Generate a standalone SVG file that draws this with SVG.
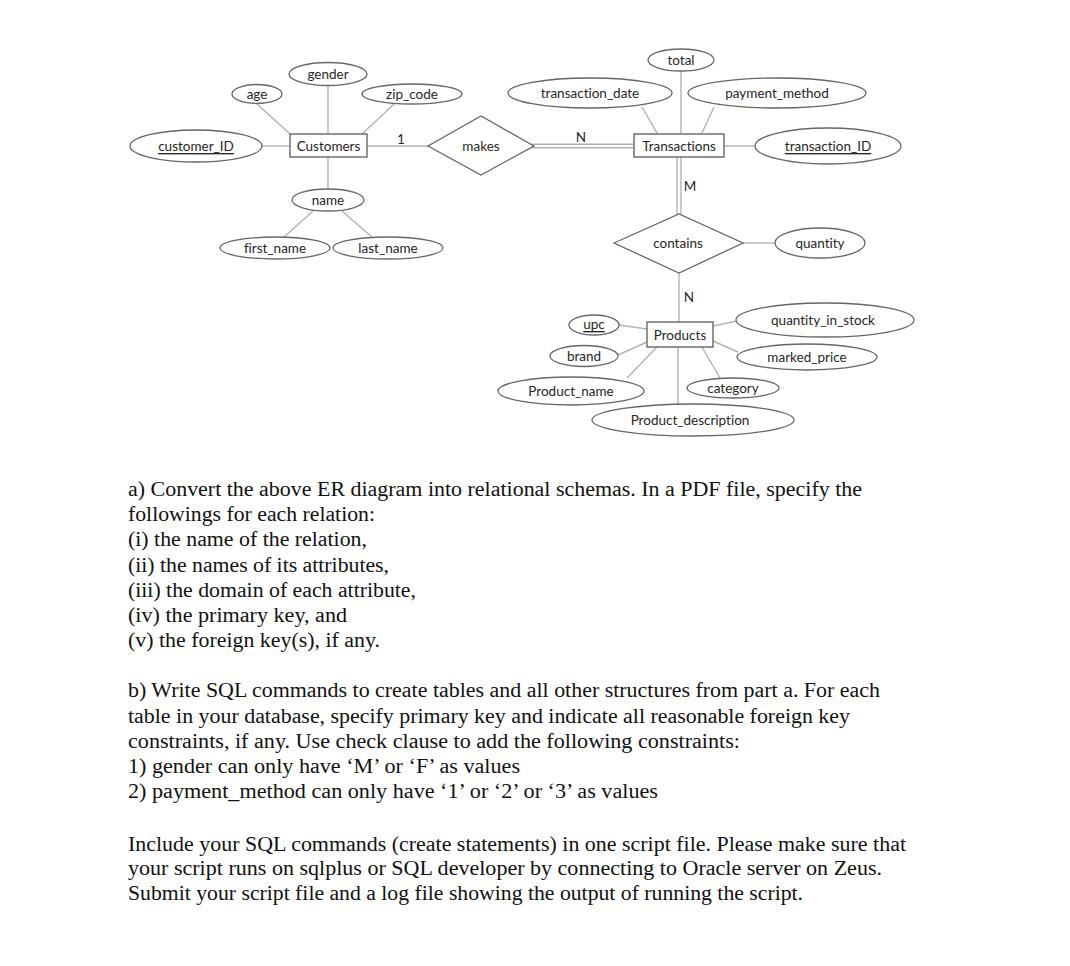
<svg xmlns="http://www.w3.org/2000/svg" width="1070" height="966" viewBox="0 0 1070 966">
<style>
.ell{fill:#fff;stroke:#666;stroke-width:1.3}
.ent{fill:#fff;stroke:#666;stroke-width:1.4}
.rel{fill:#fff;stroke:#666;stroke-width:1.3}
.ln{stroke:#b3b3b3;stroke-width:1.4;fill:none}
.t{font-family:Lato,"Open Sans","Liberation Sans",sans-serif;font-size:13.5px;fill:#262626;text-anchor:middle;dominant-baseline:central;font-variant-ligatures:none}
.u{text-decoration:underline}
.p{font-family:"Liberation Serif","Times New Roman",serif;font-size:20.5px;fill:#111}
</style>
<rect width="1070" height="966" fill="#fff"/>
<g id="connectors">
<line class="ln" x1="257" y1="104" x2="290" y2="134"/>
<line class="ln" x1="328" y1="86" x2="328" y2="134"/>
<line class="ln" x1="394" y1="104" x2="362" y2="134"/>
<line class="ln" x1="262" y1="146" x2="290" y2="146"/>
<line class="ln" x1="328" y1="157" x2="328" y2="189"/>
<line class="ln" x1="313" y1="211" x2="283" y2="238"/>
<line class="ln" x1="342" y1="211" x2="373" y2="238"/>
<line class="ln" x1="367" y1="146" x2="428" y2="146"/>
<line class="ln" x1="532" y1="144.3" x2="634" y2="144.3"/>
<line class="ln" x1="532" y1="147.7" x2="634" y2="147.7"/>
<line class="ln" x1="681" y1="71" x2="681" y2="133"/>
<line class="ln" x1="642" y1="107" x2="657" y2="133"/>
<line class="ln" x1="714" y1="107" x2="702" y2="133"/>
<line class="ln" x1="724" y1="146" x2="755" y2="146"/>
<line class="ln" x1="677" y1="157" x2="677" y2="215"/>
<line class="ln" x1="681" y1="157" x2="681" y2="215"/>
<line class="ln" x1="743" y1="243" x2="775" y2="243"/>
<line class="ln" x1="679" y1="273" x2="679" y2="322"/>
<line class="ln" x1="619" y1="325" x2="647" y2="329"/>
<line class="ln" x1="618" y1="355" x2="647" y2="342"/>
<line class="ln" x1="627" y1="378" x2="657" y2="347"/>
<line class="ln" x1="678" y1="347" x2="678" y2="404"/>
<line class="ln" x1="702" y1="347" x2="720" y2="378"/>
<line class="ln" x1="713" y1="326" x2="737" y2="321"/>
<line class="ln" x1="713" y1="341" x2="738" y2="352"/>
<text class="t" x="401" y="139">1</text>
<text class="t" x="581" y="137">N</text>
<text class="t" x="690" y="186">M</text>
<text class="t" x="689" y="297">N</text>
</g>
<g id="age"><ellipse class="ell" cx="257" cy="94" rx="25" ry="9.5"/><text class="t" x="257" y="94">age</text></g>
<g id="gender"><ellipse class="ell" cx="328" cy="74" rx="39" ry="11.5"/><text class="t" x="328" y="74">gender</text></g>
<g id="zip_code"><ellipse class="ell" cx="412" cy="94" rx="50" ry="10"/><text class="t" x="412" y="94">zip_code</text></g>
<g id="customer_ID"><ellipse class="ell" cx="196" cy="146" rx="66" ry="16"/><text class="t u" x="196" y="146">customer_ID</text></g>
<g id="Customers"><rect class="ent" x="290" y="134" width="77" height="23"/><text class="t" x="328.5" y="145.5">Customers</text></g>
<g id="name"><ellipse class="ell" cx="328" cy="200" rx="36" ry="11"/><text class="t" x="328" y="200">name</text></g>
<g id="first_name"><ellipse class="ell" cx="275" cy="248" rx="55" ry="11"/><text class="t" x="275" y="248">first_name</text></g>
<g id="last_name"><ellipse class="ell" cx="388" cy="248" rx="55" ry="11"/><text class="t" x="388" y="248">last_name</text></g>
<g id="makes"><polygon class="rel" points="428,146 481,116 534,146 481,175"/><text class="t" x="481" y="146">makes</text></g>
<g id="total"><ellipse class="ell" cx="681" cy="60" rx="33" ry="11"/><text class="t" x="681" y="60">total</text></g>
<g id="transaction_date"><ellipse class="ell" cx="590" cy="93" rx="82" ry="15"/><text class="t" x="590" y="93">transaction_date</text></g>
<g id="payment_method"><ellipse class="ell" cx="777" cy="93" rx="89" ry="15"/><text class="t" x="777" y="93">payment_method</text></g>
<g id="Transactions"><rect class="ent" x="634" y="134" width="90" height="23"/><text class="t" x="679" y="145.5">Transactions</text></g>
<g id="transaction_ID"><ellipse class="ell" cx="828" cy="146" rx="73" ry="18"/><text class="t u" x="828" y="146">transaction_ID</text></g>
<g id="contains"><polygon class="rel" points="614,243 679,214 743,243 679,273"/><text class="t" x="678" y="243">contains</text></g>
<g id="quantity"><ellipse class="ell" cx="820" cy="243" rx="45" ry="15"/><text class="t" x="820" y="243">quantity</text></g>
<g id="Products"><rect class="ent" x="647" y="322" width="66" height="25"/><text class="t" x="680" y="334.5">Products</text></g>
<g id="upc"><ellipse class="ell" cx="594" cy="325" rx="25" ry="10"/><text class="t u" x="594" y="324">upc</text></g>
<g id="brand"><ellipse class="ell" cx="584" cy="356" rx="34" ry="10.5"/><text class="t" x="584" y="356">brand</text></g>
<g id="Product_name"><ellipse class="ell" cx="571" cy="391" rx="73" ry="14"/><text class="t" x="571" y="391">Product_name</text></g>
<g id="Product_description"><ellipse class="ell" cx="693" cy="420" rx="101" ry="16"/><text class="t" x="690" y="420">Product_description</text></g>
<g id="category"><ellipse class="ell" cx="733" cy="388" rx="46" ry="10"/><text class="t" x="733" y="388">category</text></g>
<g id="quantity_in_stock"><ellipse class="ell" cx="825" cy="320" rx="89" ry="17"/><text class="t" x="823" y="320">quantity_in_stock</text></g>
<g id="marked_price"><ellipse class="ell" cx="807" cy="357" rx="70" ry="13"/><text class="t" x="807" y="357">marked_price</text></g>
<g id="question">
<text class="p" x="128" y="496" textLength="734" lengthAdjust="spacingAndGlyphs">a) Convert the above ER diagram into relational schemas. In a PDF file, specify the</text>
<text class="p" x="128" y="521" textLength="247" lengthAdjust="spacingAndGlyphs">followings for each relation:</text>
<text class="p" x="128" y="546" textLength="239" lengthAdjust="spacingAndGlyphs">(i) the name of the relation,</text>
<text class="p" x="128" y="572" textLength="261" lengthAdjust="spacingAndGlyphs">(ii) the names of its attributes,</text>
<text class="p" x="128" y="597" textLength="288" lengthAdjust="spacingAndGlyphs">(iii) the domain of each attribute,</text>
<text class="p" x="128" y="622" textLength="219" lengthAdjust="spacingAndGlyphs">(iv) the primary key, and</text>
<text class="p" x="128" y="647" textLength="252" lengthAdjust="spacingAndGlyphs">(v) the foreign key(s), if any.</text>
<text class="p" x="128" y="697" textLength="752" lengthAdjust="spacingAndGlyphs">b) Write SQL commands to create tables and all other structures from part a. For each</text>
<text class="p" x="128" y="723" textLength="722" lengthAdjust="spacingAndGlyphs">table in your database, specify primary key and indicate all reasonable foreign key</text>
<text class="p" x="128" y="748" textLength="612" lengthAdjust="spacingAndGlyphs">constraints, if any. Use check clause to add the following constraints:</text>
<text class="p" x="128" y="773" textLength="392" lengthAdjust="spacingAndGlyphs">1) gender can only have ‘M’ or ‘F’ as values</text>
<text class="p" x="128" y="798" textLength="530" lengthAdjust="spacingAndGlyphs">2) payment_method can only have ‘1’ or ‘2’ or ‘3’ as values</text>
<text class="p" x="128" y="851" textLength="778" lengthAdjust="spacingAndGlyphs">Include your SQL commands (create statements) in one script file. Please make sure that</text>
<text class="p" x="128" y="875" textLength="754" lengthAdjust="spacingAndGlyphs">your script runs on sqlplus or SQL developer by connecting to Oracle server on Zeus.</text>
<text class="p" x="128" y="900" textLength="675" lengthAdjust="spacingAndGlyphs">Submit your script file and a log file showing the output of running the script.</text>
</g>
</svg>
